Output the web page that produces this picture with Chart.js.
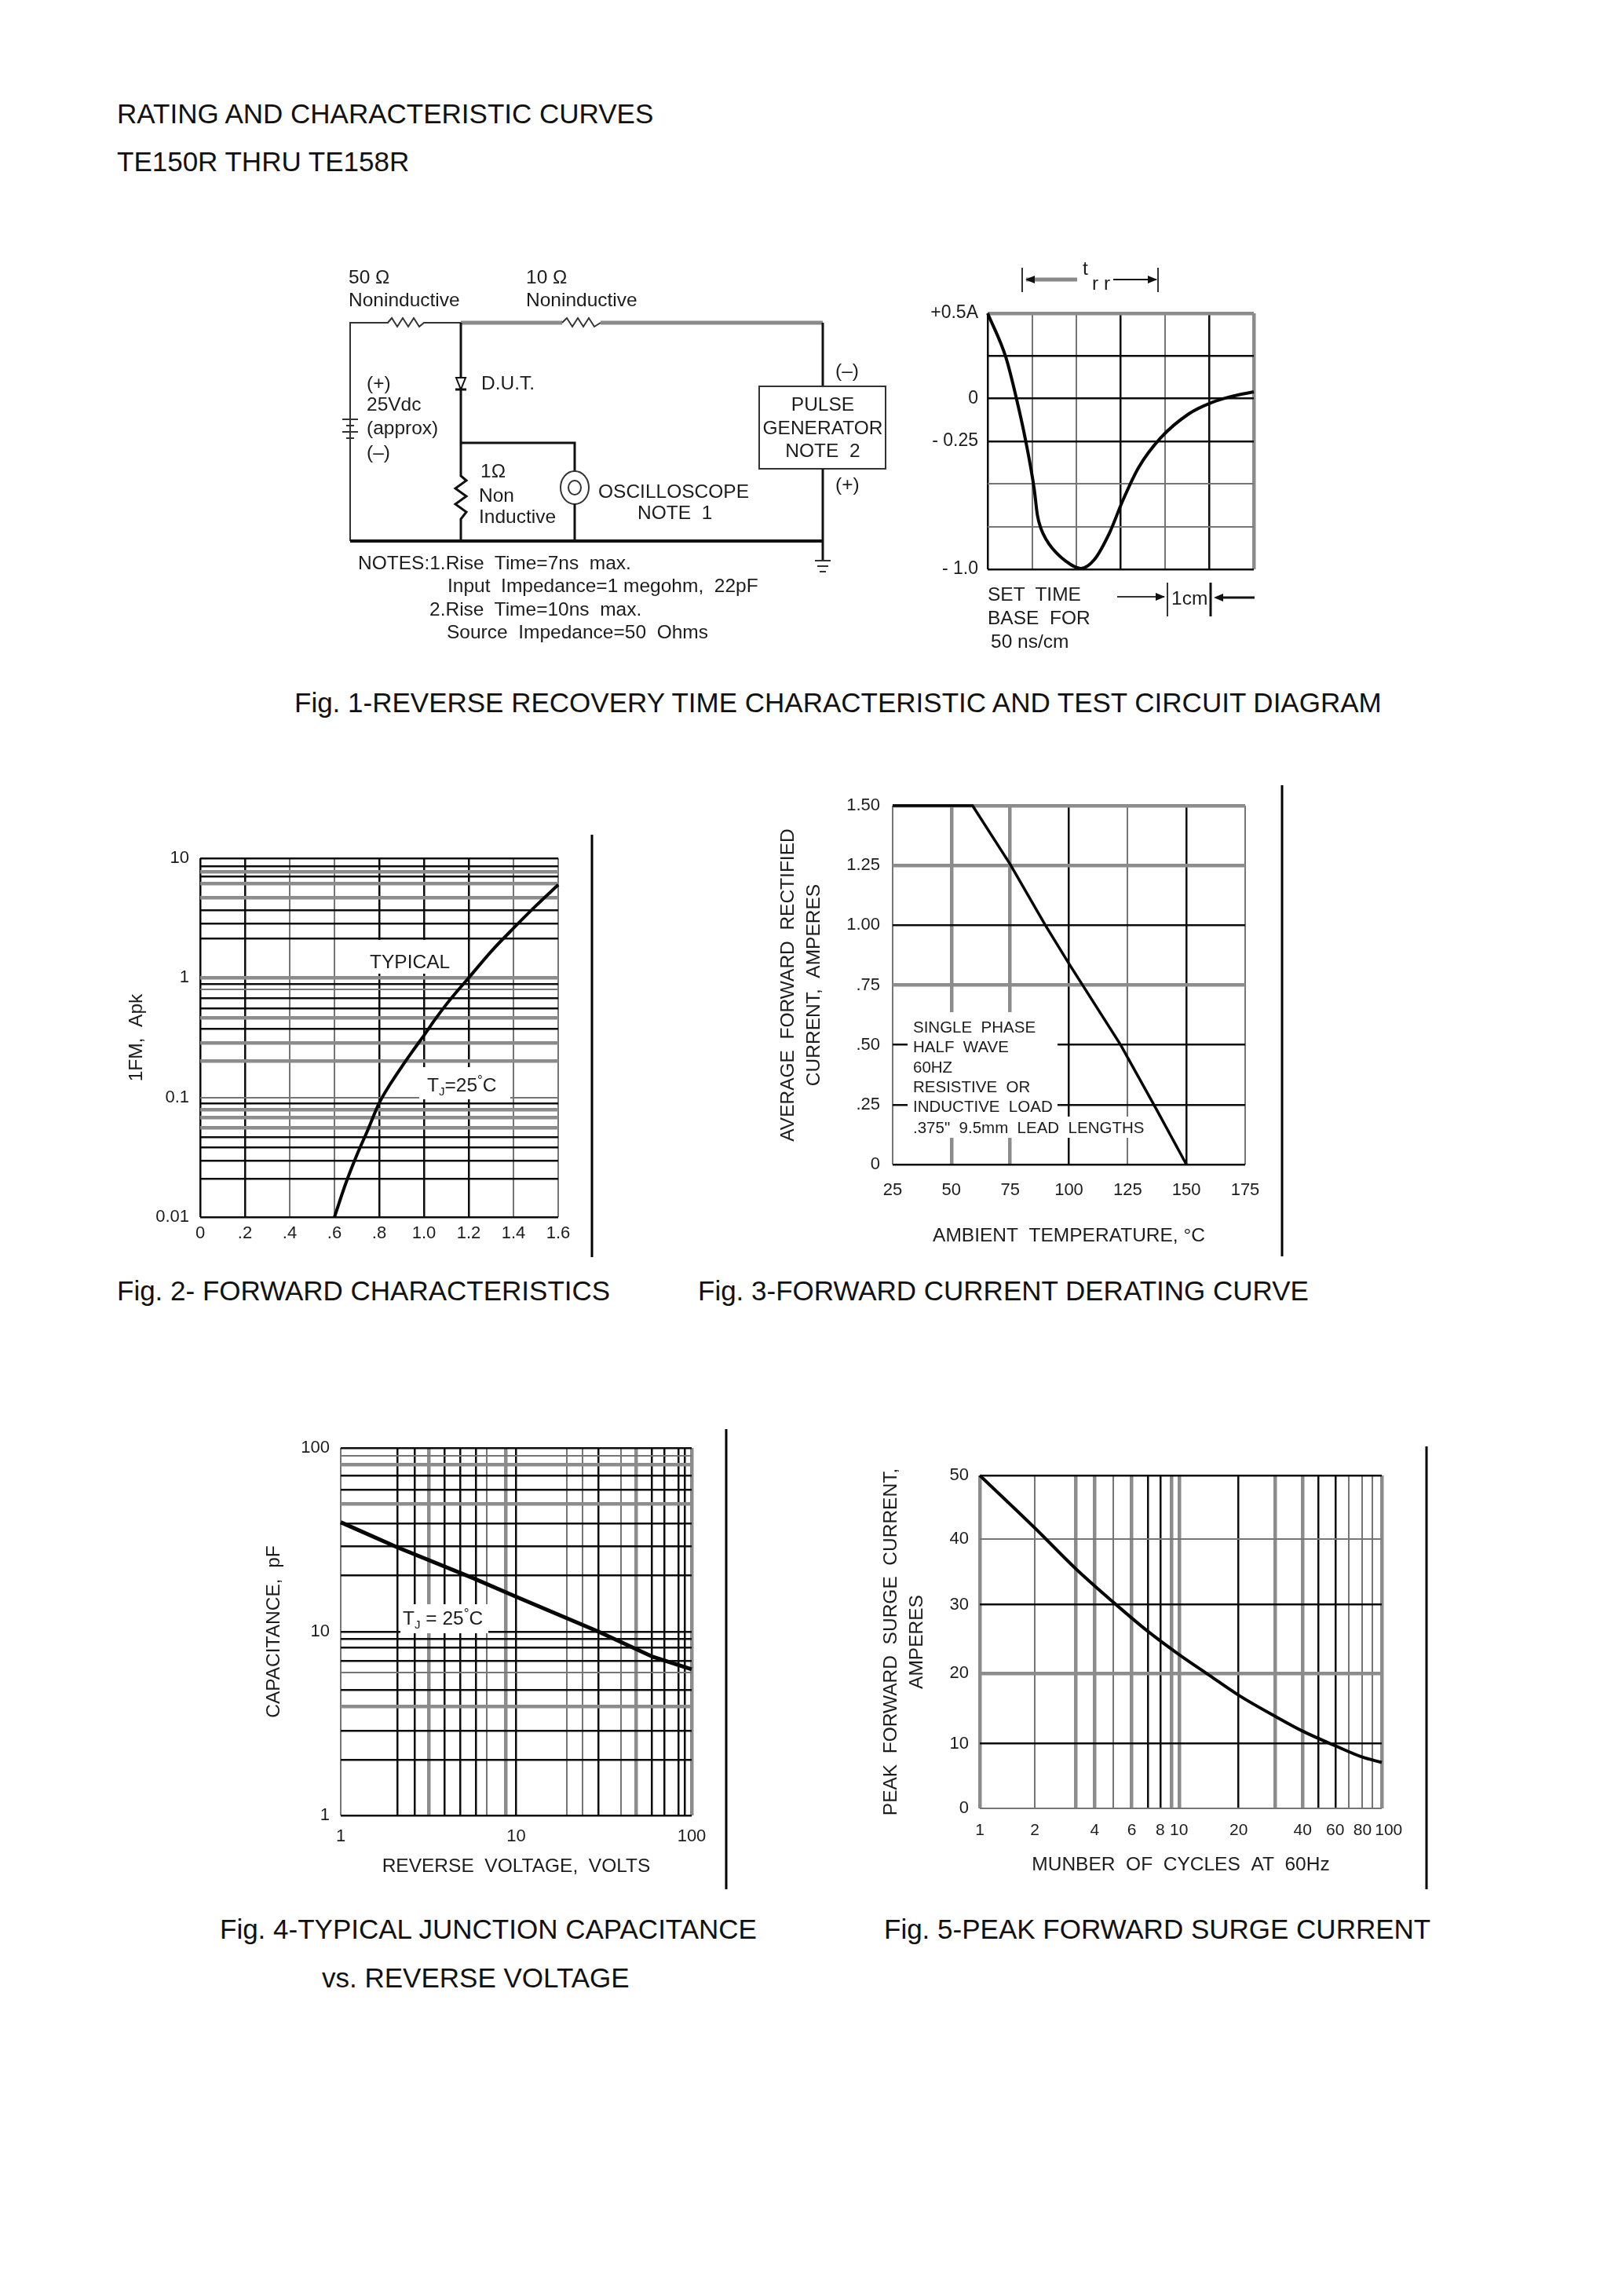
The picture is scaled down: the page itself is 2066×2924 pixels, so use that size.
<!DOCTYPE html>
<html>
<head>
<meta charset="utf-8">
<title>TE150R THRU TE158R</title>
<script src="https://cdn.jsdelivr.net/npm/chart.js@4"></script>
<style>
  html, body { margin: 0; background: #fff; }
  #sheet { position: relative; width: 2066px; height: 2924px; overflow: hidden; }
  #sheet canvas { position: absolute; filter: blur(0.6px); }
  #sheet svg { position: absolute; left: 0; top: 0; }
  text { font-family: "Liberation Sans", Arial, sans-serif; white-space: pre; fill: #1c1c1c; }
  .scan { filter: blur(0.6px); }
  .caption { font-size: 35px; fill: #111; }
  .small { font-size: 24.5px; }
  .note { font-size: 20.5px; }
  .wire { stroke: #111; stroke-width: 3; fill: none; }
  .thin { stroke: #333; stroke-width: 2; fill: none; }
  .fat { stroke: #8a8a8a; stroke-width: 5; fill: none; }
  .rule { stroke: #000; stroke-width: 3; }
  .mask { fill: #fff; }
</style>
</head>
<body>
<div id="sheet">
  <svg id="page" width="2066" height="2924">
    <text class="caption" x="149" y="157">RATING AND CHARACTERISTIC CURVES</text>
    <text class="caption" x="149" y="218">TE150R THRU TE158R</text>
    <text class="caption" x="375" y="907">Fig. 1-REVERSE RECOVERY TIME CHARACTERISTIC AND TEST CIRCUIT DIAGRAM</text>
    <text class="caption" x="149" y="1656">Fig. 2- FORWARD CHARACTERISTICS</text>
    <text class="caption" x="889" y="1656">Fig. 3-FORWARD CURRENT DERATING CURVE</text>
    <text class="caption" x="280" y="2469">Fig. 4-TYPICAL JUNCTION CAPACITANCE</text>
    <text class="caption" x="1126" y="2469">Fig. 5-PEAK FORWARD SURGE CURRENT</text>
    <text class="caption" x="410" y="2531">vs. REVERSE VOLTAGE</text>

    <line class="rule" x1="754" y1="1063" x2="754" y2="1601"/>
    <line class="rule" x1="1633" y1="1000" x2="1633" y2="1600"/>
    <line class="rule" x1="925" y1="1820" x2="925" y2="2406"/>
    <line class="rule" x1="1817" y1="1842" x2="1817" y2="2406"/>

    <g class="scan">
      <polyline class="thin" points="446,689 446,411 494,411 499,405 506,416 513,405 520,416 527,405 534,416 540,411 587,411"/>
      <polyline class="fat" points="587,411 716,411"/>
      <polyline class="thin" points="716,411 722,405 729,416 736,405 743,416 750,405 757,416 765,411"/>
      <polyline class="fat" points="765,411 1048,411"/>
      <polyline class="wire" points="587,411 587,606 594,612 580,622 594,632 580,642 594,652 587,661 587,689"/>
      <polygon points="581,481 593,481 587,496" fill="#fff" stroke="#111" stroke-width="2"/>
      <line class="wire" x1="580" y1="496" x2="594" y2="496"/>
      <polyline class="wire" points="587,564 732,564 732,600"/>
      <ellipse cx="732" cy="621" rx="18" ry="21" class="thin"/>
      <ellipse cx="732" cy="621" rx="8" ry="9" class="thin"/>
      <line class="wire" x1="732" y1="642" x2="732" y2="689"/>
      <line class="wire" x1="446" y1="689" x2="1048" y2="689" style="stroke-width:4"/>
      <polyline class="wire" points="1048,411 1048,492"/>
      <rect x="967" y="492" width="161" height="105" class="thin"/>
      <polyline class="wire" points="1048,597 1048,713"/>
      <path class="thin" d="M1038 714H1058M1041 721H1055M1044 728H1052"/>
      <path class="thin" d="M436 534H456M441 542H451M436 550H456M441 558H451"/>

      <text class="small" x="444" y="361">50 Ω</text>
      <text class="small" x="444" y="390">Noninductive</text>
      <text class="small" x="670" y="361">10 Ω</text>
      <text class="small" x="670" y="390">Noninductive</text>
      <text class="small" x="467" y="496">(+)</text>
      <text class="small" x="467" y="523">25Vdc</text>
      <text class="small" x="467" y="553">(approx)</text>
      <text class="small" x="467" y="584">(–)</text>
      <text class="small" x="613" y="496">D.U.T.</text>
      <text class="small" x="612" y="608">1Ω</text>
      <text class="small" x="610" y="639">Non</text>
      <text class="small" x="610" y="666">Inductive</text>
      <text class="small" x="762" y="634">OSCILLOSCOPE</text>
      <text class="small" x="812" y="661">NOTE  1</text>
      <text class="small" x="1064" y="480">(–)</text>
      <text class="small" x="1064" y="625">(+)</text>
      <text class="small" x="1048" y="523" text-anchor="middle">PULSE</text>
      <text class="small" x="1048" y="553" text-anchor="middle">GENERATOR</text>
      <text class="small" x="1048" y="582" text-anchor="middle">NOTE  2</text>
      <text class="small" x="456" y="725">NOTES:1.Rise  Time=7ns  max.</text>
      <text class="small" x="570" y="754">Input  Impedance=1 megohm,  22pF</text>
      <text class="small" x="547" y="784">2.Rise  Time=10ns  max.</text>
      <text class="small" x="569" y="813">Source  Impedance=50  Ohms</text>

      <path class="thin" d="M1302 341V372M1475 341V372"/>
      <line class="fat" x1="1307" y1="356" x2="1372" y2="356"/>
      <polygon points="1306,356 1318,351 1318,361" fill="#111"/>
      <line class="wire" x1="1418" y1="356" x2="1473" y2="356" style="stroke-width:2"/>
      <polygon points="1474,356 1462,351 1462,361" fill="#111"/>
      <text class="small" x="1379" y="350">t</text>
      <text class="small" x="1391" y="369">r r</text>
      <text class="small" x="1258" y="765">SET  TIME</text>
      <text class="small" x="1258" y="795">BASE  FOR</text>
      <text class="small" x="1262" y="825">50 ns/cm</text>
      <line class="thin" x1="1423" y1="760" x2="1483" y2="760"/>
      <polygon points="1484,760 1472,755 1472,765" fill="#111"/>
      <line class="thin" x1="1487" y1="742" x2="1487" y2="785"/>
      <text class="small" x="1492" y="770">1cm</text>
      <line class="wire" x1="1542" y1="742" x2="1542" y2="785"/>
      <line class="wire" x1="1550" y1="761" x2="1598" y2="761"/>
      <polygon points="1546,761 1558,756 1558,766" fill="#111"/>
    </g>
  </svg>

  <canvas id="fig1"></canvas>
  <canvas id="fig2"></canvas>
  <canvas id="fig3"></canvas>
  <canvas id="fig4"></canvas>
  <canvas id="fig5"></canvas>

  <svg id="notes" width="2066" height="2924">
    <g class="scan">
      <rect class="mask" x="471" y="1197" width="104" height="43"/>
      <text class="small" x="471" y="1233">TYPICAL</text>
      <rect class="mask" x="534" y="1359" width="116" height="41"/>
      <text class="small" x="544" y="1390">T<tspan font-size="15" dy="5">J</tspan><tspan dy="-5">=25</tspan><tspan font-size="17" dy="-9">°</tspan><tspan dy="9">C</tspan></text>

      <rect class="mask" x="1156" y="1289" width="191" height="134"/>
      <rect class="mask" x="1156" y="1422" width="306" height="27"/>
      <text class="note" x="1163" y="1315">SINGLE  PHASE</text>
      <text class="note" x="1163" y="1340">HALF  WAVE</text>
      <text class="note" x="1163" y="1366">60HZ</text>
      <text class="note" x="1163" y="1391">RESISTIVE  OR</text>
      <text class="note" x="1163" y="1416">INDUCTIVE  LOAD</text>
      <text class="note" x="1163" y="1443">.375"  9.5mm  LEAD  LENGTHS</text>

      <rect class="mask" x="510" y="2043" width="112" height="37"/>
      <text class="small" x="513" y="2069">T<tspan font-size="15" dy="5">J</tspan><tspan dy="-5"> = 25</tspan><tspan font-size="17" dy="-9">°</tspan><tspan dy="9">C</tspan></text>
    </g>
  </svg>
</div>

<script>
// Fig. 1 waveform, x in cm of the scope grid, y in amperes
const fig1X = [0, 0.41, 0.65, 0.86, 1.05, 1.12, 1.2, 1.33, 1.45, 1.75, 2.1, 2.4, 2.75, 3.05, 3.4, 3.9, 4.53, 5.03, 5.53, 6];
const fig1Y = [0.5, 0.243, 0, -0.25, -0.53, -0.68, -0.76, -0.83, -0.875, -0.95, -0.995, -0.945, -0.785, -0.595, -0.405, -0.23, -0.09, -0.025, 0.015, 0.04];
const fig1XGrid = [0, 1, 2, 3, 4, 5, 6];
const fig1XKinds = ["d", "g", "g", "d", "g", "d", "t"];
const fig1YGrid = [0.5, 0.25, 0, -0.25, -0.5, -0.75, -1];
const fig1YKinds = ["t", "d", "d", "d", "g", "g", "d"];
const fig1YLabels = ["+0.5A", "", "0", "- 0.25", "", "", "- 1.0"];

// Fig. 2 forward characteristics
const fig2X = [0.6, 0.65, 0.7, 0.75, 0.8, 0.85, 0.9, 0.95, 1.0, 1.05, 1.1, 1.15, 1.2, 1.3, 1.4, 1.5, 1.6];
const fig2Y = [0.01, 0.019, 0.033, 0.054, 0.09, 0.13, 0.18, 0.245, 0.33, 0.45, 0.6, 0.78, 1.0, 1.66, 2.6, 4.0, 6.0];
const fig2XGrid = [0, 0.2, 0.4, 0.6, 0.8, 1.0, 1.2, 1.4, 1.6];
const fig2XLabels = ["0", ".2", ".4", ".6", ".8", "1.0", "1.2", "1.4", "1.6"];
const fig2XKinds = ["d", "d", "g", "g", "d", "d", "d", "g", "g"];
const fig2YGrid = [10, 8.6, 7.7, 7.08, 6.17, 4.67, 3.7, 2.86, 2.12, 1, 0.891, 0.8, 0.673, 0.557, 0.462, 0.375, 0.285, 0.202, 0.1, 0.0897, 0.0793, 0.0677, 0.0557, 0.0469, 0.0384, 0.0296, 0.0208, 0.01];
const fig2YKinds = ["d", "d", "t", "d", "t", "t", "d", "d", "d", "t", "d", "g", "d", "d", "t", "d", "t", "t", "g", "d", "t", "t", "t", "d", "d", "d", "d", "d"];
const fig2YLabelled = { 10: "10", 1: "1", 0.1: "0.1", 0.01: "0.01" };

// Fig. 3 derating curve
const fig3X = [25, 59, 75, 90, 100, 122, 137, 150];
const fig3Y = [1.5, 1.5, 1.255, 1.0, 0.84, 0.5, 0.235, 0];
const fig3XGrid = [25, 50, 75, 100, 125, 150, 175];
const fig3XKinds = ["g", "t", "t", "d", "g", "d", "g"];
const fig3YGrid = [1.5, 1.25, 1, 0.75, 0.5, 0.25, 0];
const fig3YLabels = ["1.50", "1.25", "1.00", ".75", ".50", ".25", "0"];
const fig3YKinds = ["t", "t", "d", "t", "d", "d", "d"];

// Fig. 4 capacitance
const fig4X = [1, 2.1, 5.66, 10, 29.5, 60, 100];
const fig4Y = [39.4, 28.8, 19.6, 15.5, 10, 7.3, 6.25];
const fig4XGrid = [1, 2.1, 2.64, 3.18, 3.9, 4.8, 5.9, 6.8, 8.7, 10, 19.4, 24, 29.4, 39.4, 48.2, 59, 70, 84, 91.8, 100];
const fig4XKinds = ["g", "d", "d", "t", "d", "d", "d", "g", "t", "d", "g", "g", "d", "g", "t", "d", "d", "d", "d", "t"];
const fig4XLabelled = { 1: "1", 10: "10", 100: "100" };
const fig4YGrid = [100, 90.2, 81, 70.5, 59.5, 49.5, 38.7, 29.2, 20.2, 10, 9.1, 8.2, 6.9, 6, 4.8, 3.9, 2.9, 2, 1];
const fig4YKinds = ["d", "g", "t", "d", "d", "t", "d", "d", "d", "d", "d", "d", "d", "g", "d", "t", "d", "d", "d"];
const fig4YLabelled = { 100: "100", 10: "10", 1: "1" };

// Fig. 5 surge current
const fig5X = [1, 1.88, 3, 4.6, 6.85, 9.8, 13.7, 19.4, 29.6, 40.4, 58.7, 80, 100];
const fig5Y = [50, 42.1, 36, 31, 26.6, 23.1, 20.1, 17, 13.8, 11.6, 9.4, 7.7, 6.9];
const fig5XGrid = [1, 1.88, 3, 3.73, 4.6, 5.7, 6.85, 7.9, 9, 9.8, 19.4, 29.6, 40.4, 48.3, 58.7, 68.8, 80.2, 89.8, 100];
const fig5XKinds = ["t", "g", "t", "t", "g", "t", "d", "d", "t", "t", "d", "t", "t", "d", "d", "g", "g", "g", "t"];
// the leading spaces push "100" clear of "80", as in the original
const fig5XLabels = ["1", "2", "", "4", "", "6", "", "8", "", "10", "20", "", "40", "", "60", "", "80", "", "\u00a0\u00a0\u00a0100"];
const fig5YGrid = [50, 40.4, 30.6, 20.3, 9.7, 0];
const fig5YLabels = ["50", "40", "30", "20", "10", "0"];
const fig5YKinds = ["d", "g", "d", "t", "d", "g"];

const gridStyles = {
  d: { color: "#0c0c0c", width: 2.5 },
  t: { color: "#8c8c8c", width: 4.5 },
  g: { color: "#767676", width: 2 },
};
const fontFamily = '"Liberation Sans", Arial, sans-serif';

function axis(type, gridValues, kinds, labelFor, tickPadding, title, fontSize) {
  const options = {
    type: type,
    min: Math.min(...gridValues),
    max: Math.max(...gridValues),
    afterBuildTicks: (scale) => {
      scale.ticks = gridValues.map((v) => ({ value: v }));
    },
    border: { display: false },
    grid: {
      drawTicks: false,
      color: (ctx) => gridStyles[kinds[ctx.index]]?.color || "#000",
      lineWidth: (ctx) => gridStyles[kinds[ctx.index]]?.width || 2,
    },
    ticks: {
      autoSkip: false,
      maxRotation: 0,
      padding: tickPadding,
      color: "#1c1c1c",
      font: { family: fontFamily, size: fontSize || 22 },
      callback: (value, index) => labelFor(index),
    },
  };
  if (title) {
    options.title = {
      display: true,
      text: title,
      color: "#1c1c1c",
      padding: 0,
      font: { family: fontFamily, size: 24.5, lineHeight: Array.isArray(title) ? 1.35 : 1.2 },
    };
  }
  return options;
}

// box: plot area on the page, leftW/bottomH: room kept for each axis
function drawFigure(id, box, xs, ys, lineWidth, smooth, xAxis, yAxis) {
  const padTop = 40;
  const padRight = 50;
  const canvas = document.getElementById(id);
  canvas.width = box.leftW + (box.right - box.left) + padRight;
  canvas.height = padTop + (box.bottom - box.top) + box.bottomH;
  canvas.style.left = box.left - box.leftW + "px";
  canvas.style.top = box.top - padTop + "px";

  xAxis.afterFit = (scale) => {
    scale.height = box.bottomH;
  };
  yAxis.afterFit = (scale) => {
    scale.width = box.leftW;
  };

  return new Chart(canvas, {
    type: "line",
    data: {
      datasets: [
        {
          data: xs.map((x, i) => ({ x: x, y: ys[i] })),
          borderColor: "#060606",
          borderWidth: lineWidth,
          pointRadius: 0,
          fill: false,
          clip: false,
          cubicInterpolationMode: smooth ? "monotone" : "default",
          tension: 0,
        },
      ],
    },
    options: {
      responsive: false,
      animation: false,
      devicePixelRatio: 1,
      layout: { padding: { top: padTop, right: padRight, left: 0, bottom: 0 } },
      plugins: { legend: { display: false }, tooltip: { enabled: false } },
      scales: { x: xAxis, y: yAxis },
    },
  });
}

const noLabel = () => "";

drawFigure(
  "fig1",
  { left: 1258, right: 1597, top: 399, bottom: 725, leftW: 90, bottomH: 30 },
  fig1X, fig1Y, 4, true,
  axis("linear", fig1XGrid, fig1XKinds, noLabel, 0),
  axis("linear", fig1YGrid, fig1YKinds, (i) => fig1YLabels[i], 12, null, 23)
);

drawFigure(
  "fig2",
  { left: 255, right: 711, top: 1093, bottom: 1550, leftW: 95, bottomH: 68 },
  fig2X, fig2Y, 4, true,
  axis("linear", fig2XGrid, fig2XKinds, (i) => fig2XLabels[i], 8),
  axis("logarithmic", fig2YGrid, fig2YKinds, (i) => fig2YLabelled[fig2YGrid[i]] || "", 14, "1FM,  Apk")
);

drawFigure(
  "fig3",
  { left: 1137, right: 1586, top: 1026, bottom: 1483, leftW: 149, bottomH: 106 },
  fig3X, fig3Y, 3.5, false,
  axis("linear", fig3XGrid, fig3XKinds, (i) => String(fig3XGrid[i]), 20, "AMBIENT  TEMPERATURE, °C"),
  axis("linear", fig3YGrid, fig3YKinds, (i) => fig3YLabels[i], 16, ["AVERAGE  FORWARD  RECTIFIED", "CURRENT,  AMPERES"])
);

drawFigure(
  "fig4",
  { left: 434, right: 881, top: 1844, bottom: 2312, leftW: 99, bottomH: 80 },
  fig4X, fig4Y, 5, false,
  axis("logarithmic", fig4XGrid, fig4XKinds, (i) => fig4XLabelled[fig4XGrid[i]] || "", 14, "REVERSE  VOLTAGE,  VOLTS"),
  axis("logarithmic", fig4YGrid, fig4YKinds, (i) => fig4YLabelled[fig4YGrid[i]] || "", 14, "CAPACITANCE,  pF")
);

drawFigure(
  "fig5",
  { left: 1248, right: 1760, top: 1879, bottom: 2303, leftW: 129, bottomH: 87 },
  fig5X, fig5Y, 4, true,
  axis("logarithmic", fig5XGrid, fig5XKinds, (i) => fig5XLabels[i], 16, "MUNBER  OF  CYCLES  AT  60Hz", 21),
  axis("linear", fig5YGrid, fig5YKinds, (i) => fig5YLabels[i], 14, ["PEAK  FORWARD  SURGE  CURRENT,", "AMPERES"])
);
</script>
</body>
</html>
